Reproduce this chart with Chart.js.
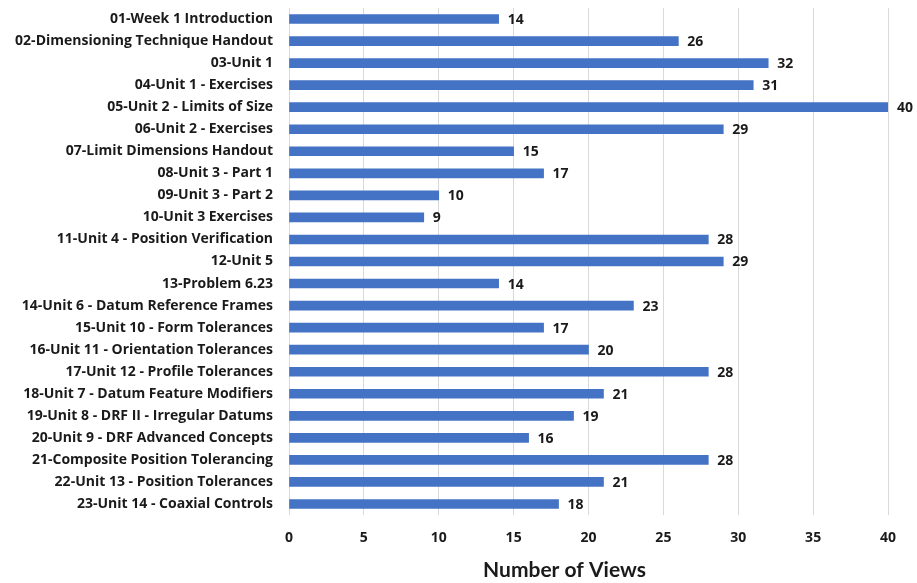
<!DOCTYPE html>
<html>
<head>
<meta charset="utf-8">
<script src="https://cdn.jsdelivr.net/npm/chart.js@4.4.0/dist/chart.umd.min.js"></script>
<style>
  html, body { margin: 0; padding: 0; background: #fff; }
  #wrap { width: 917px; height: 583px; }
</style>
</head>
<body>
<div id="wrap"><canvas id="myChart"></canvas></div>
<script>
// lezioni e visualizzazioni

var lezioni = [
    "01-Week 1 Introduction",
    "02-Dimensioning Technique Handout",
    "03-Unit 1",
    "04-Unit 1 - Exercises",
    "05-Unit 2 - Limits of Size",
    "06-Unit 2 - Exercises",
    "07-Limit Dimensions Handout",
    "08-Unit 3 - Part 1",
    "09-Unit 3 - Part 2",
    "10-Unit 3 Exercises",
    "11-Unit 4 - Position Verification",
    "12-Unit 5",
    "13-Problem 6.23",
    "14-Unit 6 - Datum Reference Frames",
    "15-Unit 10 - Form Tolerances",
    "16-Unit 11 - Orientation Tolerances",
    "17-Unit 12 - Profile Tolerances",
    "18-Unit 7 - Datum Feature Modifiers",
    "19-Unit 8 - DRF II - Irregular Datums",
    "20-Unit 9 - DRF Advanced Concepts",
    "21-Composite Position Tolerancing",
    "22-Unit 13 - Position Tolerances",
    "23-Unit 14 - Coaxial Controls"
];
var visite = [14, 26, 32, 31, 40, 29, 15, 17, 10, 9, 28, 29, 14, 23, 17, 20, 28, 21, 19, 16, 28, 21, 18];
var tickX = [0, 5, 10, 15, 20, 25, 30, 35, 40];
var titoloX = "Number of Views";

var font = "'Open Sans', Lato, sans-serif";

// etichette dei valori e titolo dell'asse
var etichette = {
    id: "etichette",
    afterDatasetsDraw: function (chart) {
        var c = chart.ctx;
        var meta = chart.getDatasetMeta(0);
        var area = chart.chartArea;
        c.save();
        c.font = "bold 14px " + font;
        c.fillStyle = "#1a1a1a";
        c.textAlign = "left";
        c.textBaseline = "middle";
        meta.data.forEach(function (bar, i) {
            c.fillText(String(visite[i]), bar.x + 9, bar.y + 1);
        });
        c.font = "bold 21px Lato, sans-serif";
        c.textAlign = "center";
        c.fillText(titoloX, (area.left + area.right) / 2 - 24, area.bottom + 55);
        c.restore();
    }
};

var ctx = document.getElementById("myChart");
var myChart = new Chart(ctx, {
    type: "bar",
    data: {
        labels: lezioni,
        datasets: [
            {
                label: titoloX,
                data: visite,
                backgroundColor: "#4472C4",
                borderWidth: 0,
                barThickness: 9
            }
        ]
    },
    options: {
        indexAxis: "y",
        responsive: true,
        maintainAspectRatio: false,
        animation: false,
        layout: { padding: { top: 8, right: 29, bottom: 0, left: 0 } },
        plugins: {
            legend: { display: false },
            tooltip: { enabled: false }
        },
        scales: {
            x: {
                min: 0,
                max: 40,
                afterBuildTicks: function (s) {
                    s.ticks = tickX.map(function (v) { return { value: v }; });
                },
                afterFit: function (s) { s.height = 68; },
                grid: { color: "#d9d9d9", drawTicks: false },
                border: { display: false },
                ticks: {
                    padding: 15,
                    color: "#1a1a1a",
                    font: { family: font, size: 14, weight: "bold" }
                }
            },
            y: {
                afterFit: function (s) {
                    s.width = 289;
                    s.paddingTop = 0;
                    s.paddingBottom = 0;
                },
                grid: { display: false, drawTicks: false },
                border: { display: false },
                ticks: {
                    padding: 16,
                    autoSkip: false,
                    color: "#1a1a1a",
                    font: { family: font, size: 14, weight: "bold" }
                }
            }
        }
    },
    plugins: [etichette]
});
</script>
</body>
</html>
